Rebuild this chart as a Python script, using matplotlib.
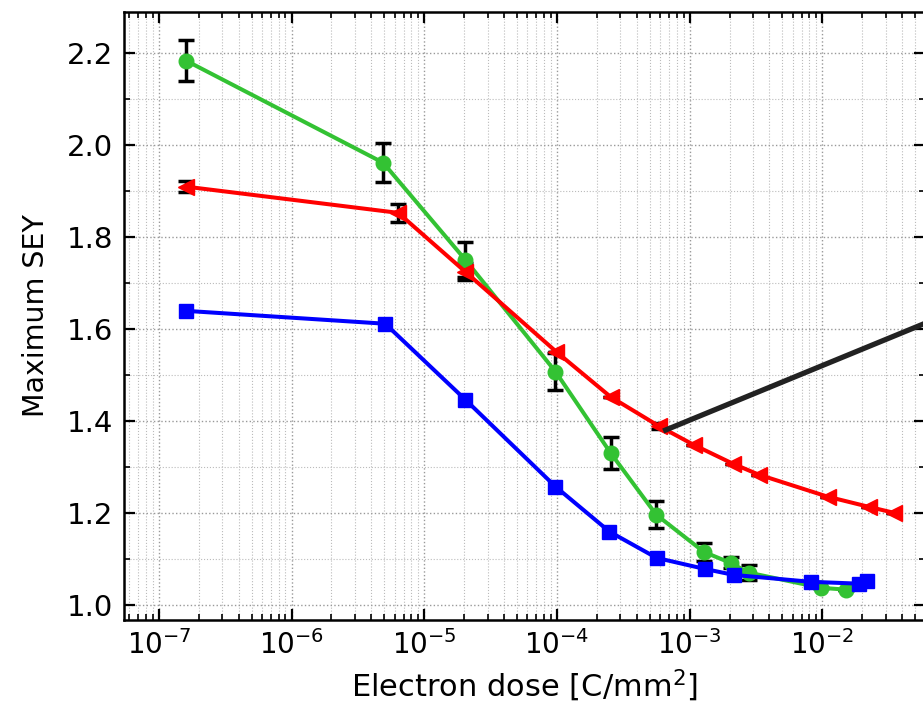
import numpy as np
import matplotlib
matplotlib.use("Agg")
import matplotlib.pyplot as plt

# green circles (with error bars)
green_x = [1.6e-7, 4.9e-6, 2.04e-5, 9.75e-5, 2.54e-4, 5.6e-4, 1.28e-3, 2.04e-3, 2.79e-3, 9.75e-3, 1.51e-2]
green_y = [2.183, 1.961, 1.750, 1.507, 1.330, 1.196, 1.115, 1.091, 1.070, 1.037, 1.033]
green_err = [0.045, 0.042, 0.038, 0.040, 0.035, 0.030, 0.020, 0.012, 0.016, 0.0, 0.0]

# red left triangles
red_x = [1.6e-7, 6.37e-6, 2.04e-5, 9.9e-5, 2.54e-4, 5.83e-4, 1.07e-3, 2.11e-3, 3.32e-3, 1.1e-2, 2.24e-2, 3.47e-2]
red_y = [1.909, 1.852, 1.724, 1.550, 1.452, 1.389, 1.348, 1.307, 1.283, 1.235, 1.213, 1.200]
red_err = [0.012, 0.020, 0.018, 0.0, 0.0, 0.006, 0.0, 0.0, 0.0, 0.0, 0.0, 0.0]

# blue squares
blue_x = [1.6e-7, 5.08e-6, 2.04e-5, 9.75e-5, 2.49e-4, 5.64e-4, 1.3e-3, 2.15e-3, 8.2e-3, 1.88e-2, 2.19e-2]
blue_y = [1.639, 1.611, 1.446, 1.257, 1.159, 1.102, 1.078, 1.065, 1.050, 1.046, 1.052]

# connector line towards (cropped) inset
link_x = [6.6e-4, 10**-1.225]
link_y = [1.380, 1.612]

plt.rcParams['font.family'] = 'DejaVu Sans'
fig = plt.figure(figsize=(9.23, 7.08), dpi=100)
ax = fig.add_axes([0.1343, 0.1243, 0.868, 0.859])

ax.errorbar(green_x, green_y, yerr=green_err, fmt='none', ecolor='black',
            elinewidth=2.5, capsize=6, capthick=2.5, zorder=2)
ax.errorbar(red_x, red_y, yerr=red_err, fmt='none', ecolor='black',
            elinewidth=2.5, capsize=6, capthick=2.5, zorder=2)
ax.plot(green_x, green_y, '-o', color='#33c233', lw=2.9, ms=10.5, zorder=3)
ax.plot(red_x, red_y, '-<', color='#ff0000', lw=2.9, ms=11.5, zorder=4)
ax.plot(blue_x, blue_y, '-s', color='#0000ff', lw=2.9, ms=10.5, zorder=5)

ax.plot(link_x, link_y, '-', color='#222222', lw=3.8, zorder=6, clip_on=False)

ax.set_xscale('log')
ax.set_xlim(10**-7.263, 10**-1.225)
ax.set_ylim(0.967, 2.289)
ax.set_yticks([1.0, 1.2, 1.4, 1.6, 1.8, 2.0, 2.2])
ax.set_yticks(np.arange(1.1, 2.3, 0.2), minor=True)
ax.set_xticks([1e-7, 1e-6, 1e-5, 1e-4, 1e-3, 1e-2])

ax.grid(True, which='major', ls=':', color='#999999', lw=1.0)
ax.grid(True, which='minor', ls=':', color='#bbbbbb', lw=0.8)
ax.tick_params(which='both', direction='in', top=True, right=True)
ax.tick_params(which='major', length=8, width=1.6)
ax.tick_params(which='minor', length=4, width=1.2)
ax.tick_params(axis='y', labelsize=21, pad=8)
ax.tick_params(axis='x', labelsize=20, pad=7)
for s in ax.spines.values():
    s.set_linewidth(1.8)

ax.set_xlabel('Electron dose [C/mm$^2$]', fontsize=22, labelpad=6)
ax.set_ylabel('Maximum SEY', fontsize=20.5, labelpad=12)

fig.savefig('out.png', dpi=100)
